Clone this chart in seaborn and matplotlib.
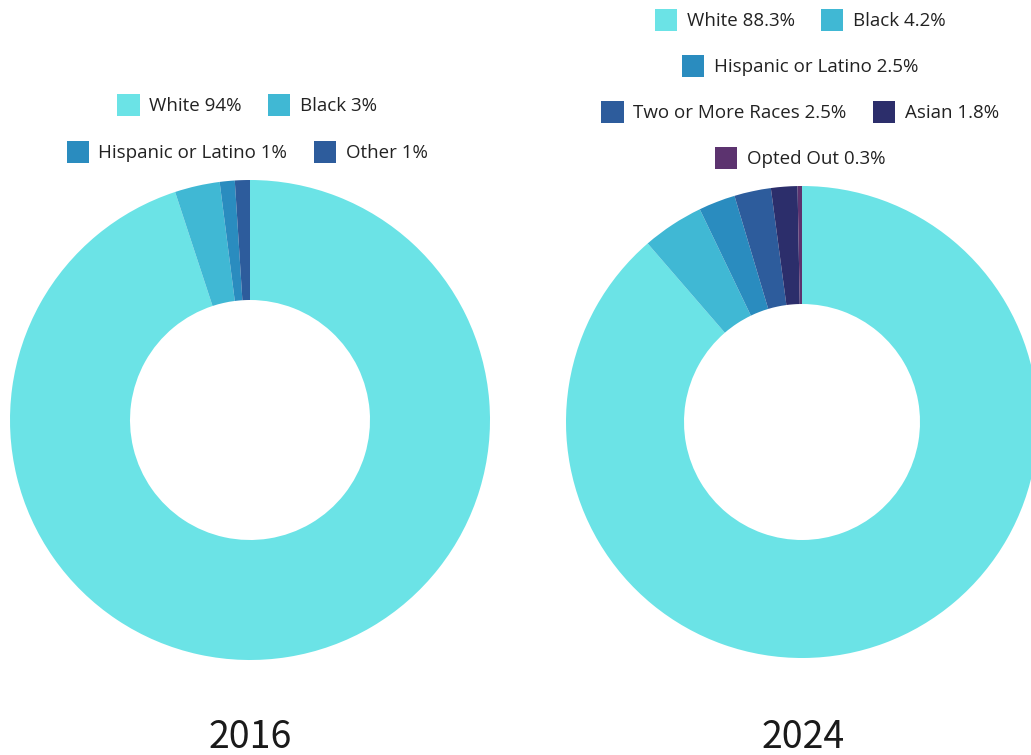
import matplotlib
matplotlib.use("Agg")
import matplotlib.pyplot as plt
from matplotlib.patches import Patch
import seaborn as sns

sns.set_theme(style="white")
plt.rcParams["font.family"] = ["Open Sans", "DejaVu Sans"]

# 2016 composition
cats_2016 = ["White", "Black", "Hispanic or Latino", "Other"]
vals_2016 = [94, 3, 1, 1]

# 2024 composition
cats_2024 = ["White", "Black", "Hispanic or Latino", "Two or More Races", "Asian", "Opted Out"]
vals_2024 = [88.3, 4.2, 2.5, 2.5, 1.8, 0.3]

years = ["2016", "2024"]

colors = {
    "White": "#6be3e6",
    "Black": "#40b8d4",
    "Hispanic or Latino": "#2a8cbf",
    "Other": "#2d5c9c",
    "Two or More Races": "#2d5c9c",
    "Asian": "#2c2e6b",
    "Opted Out": "#5c336f",
}

W, H = 1031, 755
fig = plt.figure(figsize=(W / 100, H / 100), dpi=100)
fig.patch.set_facecolor("white")


def px_axes(cx, cy, r):
    # axes centred on (cx, cy) pixel position measured from top-left
    return fig.add_axes([(cx - r) / W, (H - cy - r) / H, 2 * r / W, 2 * r / H])


def donut(ax, cats, vals):
    ax.pie(vals, colors=[colors[c] for c in cats], startangle=90, counterclock=False,
           radius=1.0, wedgeprops=dict(width=0.5, linewidth=0))
    ax.set_xlim(-1, 1)
    ax.set_ylim(-1, 1)
    ax.set_aspect("equal")
    ax.axis("off")


donut(px_axes(250, 420, 240), cats_2016, vals_2016)
donut(px_axes(802, 422, 236), cats_2024, vals_2024)


def fmt(v):
    return f"{v:g}%"


def legend_row(cats, vals, cx, cy):
    handles = [Patch(facecolor=colors[c], edgecolor="none") for c in cats]
    labels = [f"{c} {fmt(v)}" for c, v in zip(cats, vals)]
    fig.legend(handles, labels, loc="center", bbox_to_anchor=(cx / W, 1 - cy / H),
               ncol=len(cats), frameon=False, fontsize=13.5, handlelength=1.2,
               handleheight=1.45, handletextpad=0.5, columnspacing=1.4,
               labelcolor="#222222", borderpad=0, borderaxespad=0)


legend_row(cats_2016[:2], vals_2016[:2], 247, 105)
legend_row(cats_2016[2:], vals_2016[2:], 247, 152)

legend_row(cats_2024[:2], vals_2024[:2], 800, 20)
legend_row(cats_2024[2:3], vals_2024[2:3], 800, 66)
legend_row(cats_2024[3:5], vals_2024[3:5], 800, 112)
legend_row(cats_2024[5:], vals_2024[5:], 800, 158)

for year, cx in zip(years, [250, 803]):
    fig.text(cx / W, 1 - 748 / H, year, ha="center", va="baseline", fontsize=27,
             color="#1a1a1a", family=["Noto Sans CJK SC", "DejaVu Sans"])

fig.savefig("out.png", dpi=100, facecolor="white")
